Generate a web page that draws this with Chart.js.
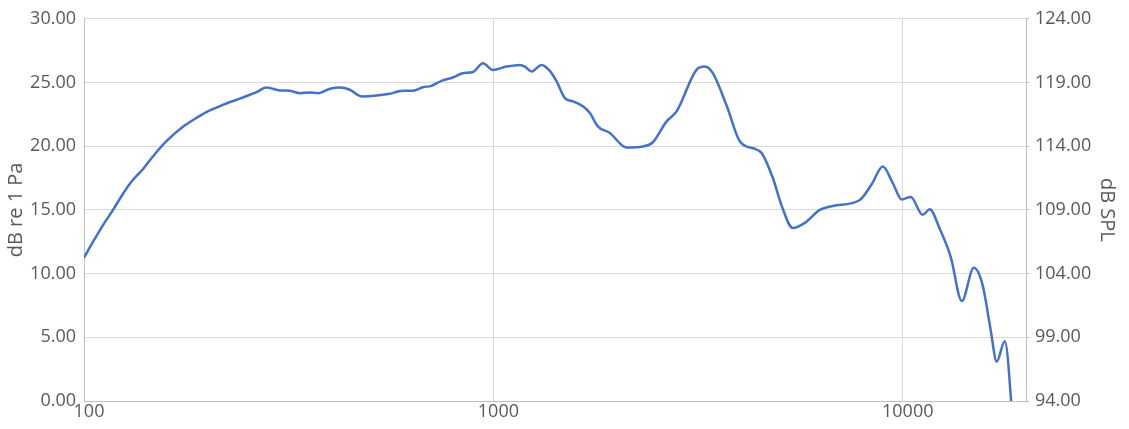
<!DOCTYPE html>
<html>
<head>
<meta charset="utf-8">
<script src="https://cdn.jsdelivr.net/npm/chart.js@4.4.0/dist/chart.umd.min.js"></script>
<style>
  html, body { margin: 0; padding: 0; background: #fff; }
  #wrap { width: 1129px; height: 429px; }
</style>
</head>
<body>
<div id="wrap"><canvas id="fr"></canvas></div>
<script>
// frequency response
const freqs = [100, 105, 111, 118, 125, 131, 138, 148, 159, 175, 188, 199, 219, 240, 264, 279,
  301, 318, 337, 356, 373, 399, 422, 446, 476, 518, 553, 601, 636, 673, 706, 747, 796, 842,
  891, 943, 997, 1077, 1161, 1194, 1240, 1311, 1374, 1427, 1495, 1564, 1654, 1721, 1799,
  1925, 2115, 2318, 2452, 2649, 2802, 3134, 3285, 3436, 3718, 3999, 4392, 4526, 4814, 5064,
  5387, 5764, 6271, 6746, 7852, 8402, 8937, 9454, 9945, 10460, 11190, 11640, 12315, 13100,
  13940, 14910, 15680, 16400, 16960, 17750, 18700];
const dbPa = [11.25, 12.45, 13.75, 15.05, 16.35, 17.27, 18.05, 19.27, 20.39, 21.56, 22.21,
  22.68, 23.26, 23.73, 24.24, 24.61, 24.38, 24.35, 24.16, 24.22, 24.16, 24.51, 24.61, 24.43,
  23.91, 23.98, 24.09, 24.35, 24.35, 24.63, 24.74, 25.13, 25.39, 25.73, 25.82, 26.51, 25.99,
  26.25, 26.38, 26.25, 25.86, 26.38, 25.91, 25.08, 23.77, 23.52, 23.13, 22.60, 21.56, 21.04,
  19.90, 19.98, 20.31, 21.95, 22.73, 25.99, 26.25, 25.73, 23.13, 20.39, 19.74, 19.45, 17.52,
  15.3, 13.57, 13.98, 15.0, 15.31, 15.78, 17.03, 18.40, 17.11, 15.82, 16.02, 14.61, 15.05,
  13.5, 11.3, 7.85, 10.45, 9.06, 5.55, 3.09, 4.69, -3];
const xTicks = [100, 1000, 10000];
const leftRange = [0, 30];
const rightRange = [94, 124];

const textColor = "#595959";
const gridColor = "#d9d9d9";
const tickFont = { family: "Open Sans", size: 18 };
const titleFont = { family: "Open Sans", size: 20 };

const ctx = document.getElementById("fr").getContext("2d");
new Chart(ctx, {
  type: "line",
  data: {
    datasets: [{
      data: freqs.map((f, i) => ({ x: f, y: dbPa[i] })),
      borderColor: "#4472c4",
      borderWidth: 2.5,
      pointRadius: 0,
      cubicInterpolationMode: "monotone",
      fill: false,
    }],
  },
  options: {
    responsive: true,
    maintainAspectRatio: false,
    animation: false,
    layout: { padding: { top: 17, left: 0, right: 0, bottom: 0 } },
    plugins: {
      legend: { display: false },
      tooltip: { enabled: false },
    },
    scales: {
      x: {
        type: "logarithmic",
        min: 100,
        max: 20000,
        afterBuildTicks: (scale) => {
          scale.ticks = xTicks.map((v) => ({ value: v }));
        },
        afterFit: (scale) => { scale.height = 28; },
        ticks: {
          color: textColor,
          font: tickFont,
          maxRotation: 0,
          padding: 0,
          labelOffset: 5,
          callback: (v) => String(v),
        },
        grid: { color: gridColor, drawTicks: false },
        border: { color: "#bfbfbf" },
      },
      y: {
        position: "left",
        min: leftRange[0],
        max: leftRange[1],
        afterFit: (scale) => { scale.width = 84; },
        ticks: {
          stepSize: 5,
          color: textColor,
          font: tickFont,
          padding: 8,
          callback: (v) => v.toFixed(2),
        },
        grid: { color: gridColor, drawTicks: false },
        border: { color: "#bfbfbf" },
        title: {
          display: true,
          text: "dB re 1 Pa",
          color: textColor,
          font: titleFont,
          padding: { top: 4, bottom: 0 },
        },
      },
      y2: {
        position: "right",
        min: rightRange[0],
        max: rightRange[1],
        afterFit: (scale) => { scale.width = 1129 - 1026; },
        ticks: {
          stepSize: 5,
          color: textColor,
          font: tickFont,
          padding: 6,
          callback: (v) => v.toFixed(2),
        },
        grid: { drawOnChartArea: false, color: "#bfbfbf", tickLength: 3 },
        border: { color: "#bfbfbf" },
        title: {
          display: true,
          text: "dB SPL",
          color: textColor,
          font: titleFont,
          padding: { top: 10, bottom: 0 },
        },
      },
    },
  },
});
</script>
</body>
</html>
